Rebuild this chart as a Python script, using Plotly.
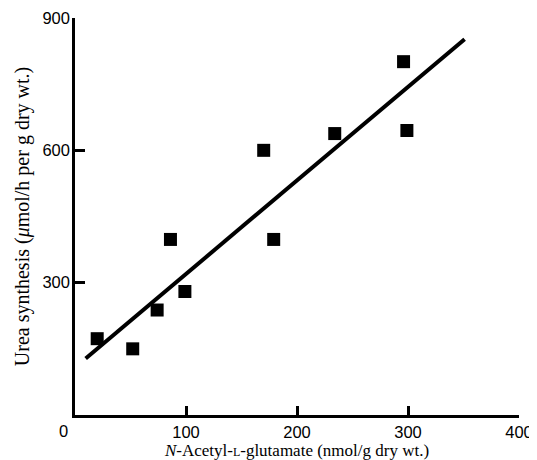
import plotly.graph_objects as go

# Data
nag = [20, 52, 74, 86, 99, 170, 179, 234, 296, 299]          # N-Acetyl-L-glutamate (nmol/g dry wt.)
urea = [173, 150, 238, 398, 280, 600, 398, 638, 801, 645]     # Urea synthesis (umol/h per g dry wt.)

# Regression line end points
line_x = [9.6, 351]
line_y = [128, 852]

x_ticks = [100, 200, 300, 400]
y_ticks = [300, 600, 900]

fig = go.Figure()
fig.add_trace(go.Scatter(x=line_x, y=line_y, mode="lines",
                         line=dict(color="black", width=4), showlegend=False,
                         hoverinfo="skip"))
fig.add_trace(go.Scatter(x=nag, y=urea, mode="markers",
                         marker=dict(symbol="square", size=13, color="black",
                                     line=dict(width=0)),
                         showlegend=False))

tickfont = dict(family="Liberation Sans, Arial, sans-serif", size=16.5, color="black")
xtitlefont = dict(family="Liberation Serif, Times New Roman, serif", size=17, color="black")
ytitlefont = dict(family="Liberation Serif, Times New Roman, serif", size=20, color="black")

fig.update_xaxes(range=[0, 400], tickvals=x_ticks, ticks="inside", ticklen=9,
                 tickwidth=2.5, tickcolor="black", showline=True, linewidth=2.5,
                 linecolor="black", showgrid=False, zeroline=False,
                 tickfont=tickfont, automargin=False,
                 title=dict(text="<i>N</i>-Acetyl-<span style='font-size:12px'>L</span>-glutamate (nmol/g dry wt.)",
                            font=xtitlefont, standoff=2))
fig.update_yaxes(range=[0, 900], tickvals=y_ticks, ticks="inside", ticklen=10,
                 tickwidth=2.5, tickcolor="black", showline=True, linewidth=2.5,
                 linecolor="black", showgrid=False, zeroline=False,
                 tickfont=tickfont, automargin=False, ticklabelstandoff=-1,
                 title=dict(text="Urea synthesis (<i>μ</i>mol/h per g dry wt.)",
                            font=ytitlefont, standoff=8))

fig.add_annotation(x=0, y=0, xref="x", yref="y", text="0", showarrow=False,
                   font=tickfont, xshift=-12, yshift=-16)

# page body has an 8px default margin, so the figure is offset by 8px
fig.update_layout(width=529, height=452, margin=dict(l=67, r=18, t=10, b=45),
                  plot_bgcolor="white", paper_bgcolor="white")

fig.write_html("out.html")
